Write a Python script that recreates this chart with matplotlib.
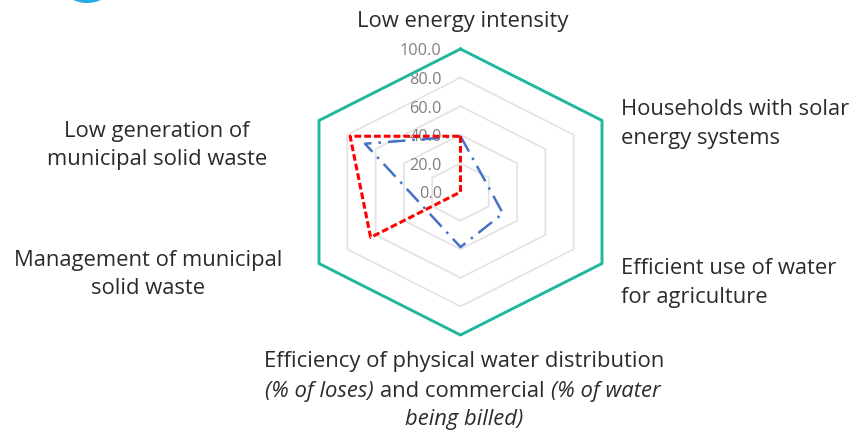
import numpy as np
import matplotlib
matplotlib.use("Agg")
import matplotlib.pyplot as plt
from matplotlib.patches import Ellipse

plt.rcParams['font.family'] = ['Open Sans', 'DejaVu Sans']

W, H = 849, 431
# radar axes
axis_angles_deg = [90, 30, -30, -90, -150, 150]
rings = [20, 40, 60, 80]
ring_labels = ["0.0", "20.0", "40.0", "60.0", "80.0", "100.0"]
ring_values = [0, 20, 40, 60, 80, 100]
outer_ring = [100, 100, 100, 100, 100, 100]
blue_series = [39, 17, 30, 38.5, 24.5, 67.5]
red_series = [39, 0, 0, 0, 63.5, 78]

teal = '#1FB89A'
grid_col = '#E4E4E4'
text_col = '#2B2B2B'
fs = 15.8


def closed(values):
    return values + values[:1]


fig = plt.figure(figsize=(W / 100, H / 100), dpi=100)

# pixel-space layer for the logo and labels
bg = fig.add_axes([0, 0, 1, 1])
bg.set_xlim(0, W)
bg.set_ylim(H, 0)
bg.axis('off')
bg.add_patch(Ellipse((87, -14), 50, 36, color='#29ABE2', lw=0))

# hexagon is wider than it is tall, so the polar axes are stretched
cx, cy, Rx, Ry = 460.5, 193, 163.4, 143
ax = fig.add_axes([(cx - Rx) / W, (H - cy - Ry) / H, 2 * Rx / W, 2 * Ry / H],
                  projection='polar')
ax.set_aspect('auto')
ax.patch.set_alpha(0)
ax.set_ylim(0, 100)
ax.axis('off')
theta = np.deg2rad(axis_angles_deg)
theta_c = closed(list(theta))

for r in rings:
    ax.plot(theta_c, closed([r] * 6), color=grid_col, lw=1.3, clip_on=False, zorder=1)
ax.plot(theta_c, closed(outer_ring), color=teal, lw=2.1, clip_on=False, zorder=3)
ax.plot(theta_c, closed(blue_series), color='#4472C4', lw=1.8,
        linestyle=(0, (7, 2.8, 1, 2.8)), clip_on=False, zorder=3)
ax.plot(theta_c, closed(red_series), color='#FF0000', lw=2.2,
        linestyle=(0, (2.2, 1.0)), clip_on=False, zorder=4)

# radial scale labels, sitting left of the top spoke and under the series
for v, lab in zip(ring_values, ring_labels):
    ax.annotate(lab, xy=(np.pi / 2, v), xytext=(-13.5, -1), textcoords='offset points',
                ha='right', va='center', fontsize=11.7, color='#7F7F7F',
                annotation_clip=False, zorder=2)


def label(x, y, s, ha='center', style='normal'):
    return bg.text(x, y + 1.5, s, ha=ha, va='center', fontsize=fs, color=text_col,
                   style=style)


label(463, 20, "Low energy intensity")
label(621, 108, "Households with solar", ha='left')
label(621, 137, "energy systems", ha='left')
label(621, 267, "Efficient use of water", ha='left')
label(621, 296, "for agriculture", ha='left')
label(157, 130, "Low generation of")
label(157, 158, "municipal solid waste")
label(148, 259, "Management of municipal")
label(148, 287, "solid waste")
label(464, 360, "Efficiency of physical water distribution")
label(464, 418, "being billed)", style='italic')

# second line of the bottom label mixes italic and upright runs
runs = [("(% of loses)", 'italic'), ("and commercial", 'normal'), ("(% of water", 'italic')]
renderer = fig.canvas.get_renderer()
items = [label(0, 390, s, ha='left', style=st) for s, st in runs]
space = 6.0
widths = [t.get_window_extent(renderer).width for t in items]
x = 463 - (sum(widths) + space * 2) / 2
for t, w in zip(items, widths):
    t.set_x(x)
    x += w + space

fig.savefig("out.png", dpi=100, facecolor='white')
